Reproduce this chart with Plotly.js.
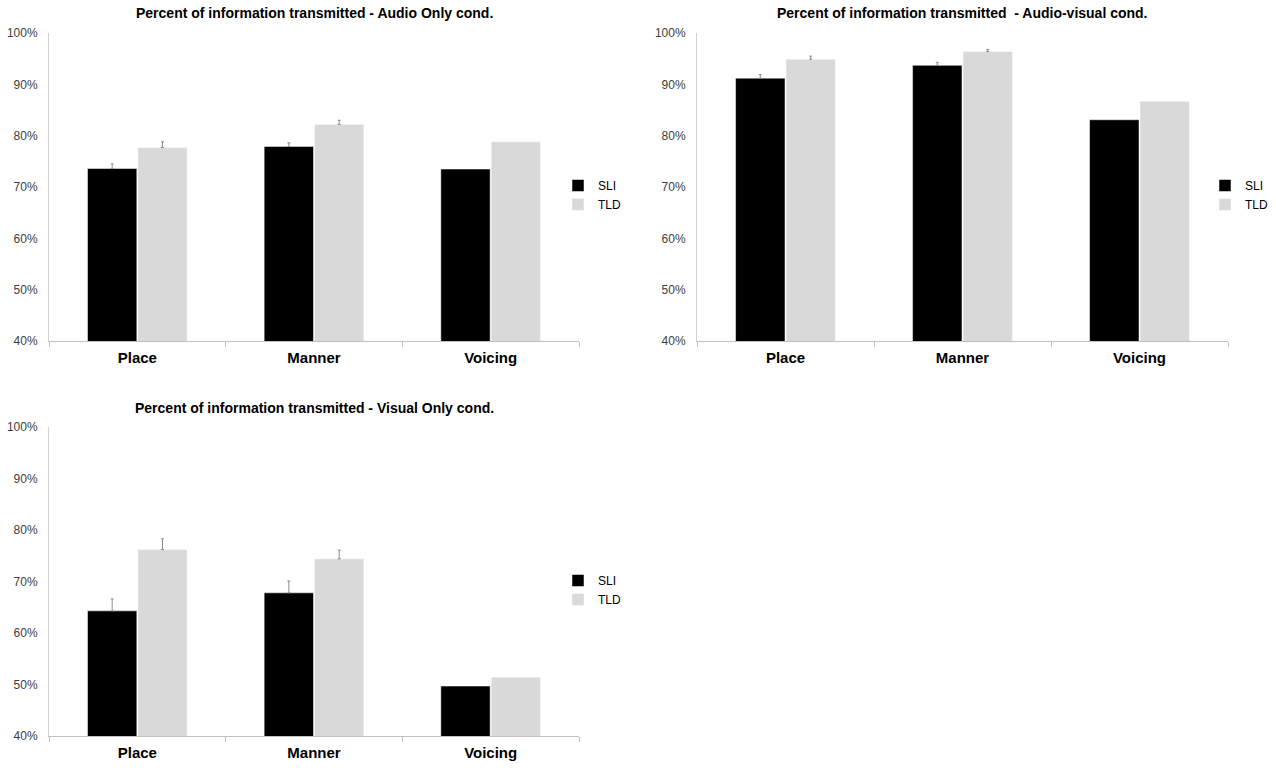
<!DOCTYPE html>
<html>
<head>
<meta charset="utf-8">
<script src="https://cdn.plot.ly/plotly-3.0.1.min.js"></script>
<style>
  html, body { margin: 0; padding: 0; background: #fff; }
  #chart { width: 1276px; height: 768px; }
</style>
</head>
<body>
<div id="chart"></div>
<script>
// categories and groups
var categories = ['Place', 'Manner', 'Voicing'];
var groups = ['SLI', 'TLD'];

// NaN = no error bar drawn for that bar

// Audio only
var audioSLI = [73.6, 77.9, 73.5];
var audioTLD = [77.7, 82.2, 78.8];
var audioSLIErr = [0.9, 0.7, NaN];
var audioTLDErr = [1.1, 0.8, NaN];

// Audio-visual
var avSLI = [91.2, 93.7, 83.1];
var avTLD = [94.9, 96.4, 86.7];
var avSLIErr = [0.7, 0.6, NaN];
var avTLDErr = [0.6, 0.4, NaN];

// Visual only
var visualSLI = [64.3, 67.8, 49.7];
var visualTLD = [76.2, 74.4, 51.4];
var visualSLIErr = [2.3, 2.3, NaN];
var visualTLDErr = [2.1, 1.7, NaN];

var titles = [
  'Percent of information transmitted - Audio Only cond.',
  'Percent of information transmitted&nbsp; - Audio-visual cond.',
  'Percent of information transmitted - Visual Only cond.'
];

var FONT = '"Liberation Sans", Arial, sans-serif';
var colors = { SLI: '#000000', TLD: '#d9d9d9' };

function bars(name, vals, errs, xa, ya, leg) {
  return {
    type: 'bar',
    name: name,
    x: categories,
    y: vals,
    xaxis: xa,
    yaxis: ya,
    legend: leg,
    marker: { color: colors[name], line: { color: '#ffffff', width: 0.5 } },
    error_y: {
      type: 'data', symmetric: false,
      array: errs,
      // one-sided bars: nothing below the top of the bar
      arrayminus: errs.map(function (e) { return isNaN(e) ? NaN : 0; }),
      color: '#8c8c8c', thickness: 1, width: 1.5
    },
    hoverinfo: 'x+y+name'
  };
}

var data = [
  bars('SLI', audioSLI, audioSLIErr, 'x', 'y', 'legend'),
  bars('TLD', audioTLD, audioTLDErr, 'x', 'y', 'legend'),
  bars('SLI', avSLI, avSLIErr, 'x2', 'y2', 'legend2'),
  bars('TLD', avTLD, avTLDErr, 'x2', 'y2', 'legend2'),
  bars('SLI', visualSLI, visualSLIErr, 'x3', 'y3', 'legend3'),
  bars('TLD', visualTLD, visualTLDErr, 'x3', 'y3', 'legend3')
];

var W = 1276, H = 768;
function px(x) { return x / W; }
function py(y) { return 1 - y / H; }

function xaxisCfg(l, r, anchor) {
  return {
    domain: [px(l), px(r)], anchor: anchor,
    showline: true, linecolor: '#c0c0c0', linewidth: 1,
    ticks: 'outside', tickson: 'boundaries', ticklen: 5, tickcolor: '#c0c0c0',
    ticklabelstandoff: 3,
    tickfont: { family: FONT, size: 15, color: '#000000', weight: 'bold' },
    showgrid: false, zeroline: false, fixedrange: true
  };
}
function yaxisCfg(t, b, anchor) {
  return {
    domain: [py(b), py(t)], anchor: anchor,
    range: [40, 100], dtick: 10, ticksuffix: '%',
    showline: true, linecolor: '#d0d0d0', linewidth: 1,
    ticks: 'outside', ticklen: 0, ticklabelstandoff: 8,
    tickfont: { family: FONT, size: 12, color: '#404040' },
    showgrid: false, zeroline: false, fixedrange: true
  };
}
function legendCfg(x, y) {
  return {
    x: px(x), y: py(y), xanchor: 'left', yanchor: 'middle',
    font: { family: FONT, size: 12, color: '#000000' },
    itemwidth: 30, tracegroupgap: 0, bgcolor: 'rgba(0,0,0,0)'
  };
}
function titleAnn(text, x, y) {
  return {
    text: text, xref: 'paper', yref: 'paper', x: px(x), y: py(y),
    xanchor: 'center', yanchor: 'middle', showarrow: false,
    font: { family: FONT, size: 14, color: '#000000', weight: 'bold' }
  };
}

var layout = {
  width: W, height: H,
  margin: { l: 0, r: 0, t: 0, b: 0 },
  paper_bgcolor: '#ffffff', plot_bgcolor: '#ffffff',
  font: { family: FONT },
  barmode: 'group', bargap: 0.43, bargroupgap: 0.02,
  xaxis: xaxisCfg(49, 579, 'y'),
  yaxis: yaxisCfg(33, 341, 'x'),
  xaxis2: xaxisCfg(697, 1228, 'y2'),
  yaxis2: yaxisCfg(33, 341, 'x2'),
  xaxis3: xaxisCfg(49, 579, 'y3'),
  yaxis3: yaxisCfg(427, 736, 'x3'),
  legend: legendCfg(558, 195),
  legend2: legendCfg(1205, 195),
  legend3: legendCfg(558, 590),
  annotations: [
    titleAnn(titles[0], 314, 13),
    titleAnn(titles[1], 962, 13),
    titleAnn(titles[2], 314, 408)
  ],
  showlegend: true
};

Plotly.newPlot('chart', data, layout, { displayModeBar: false, staticPlot: true });
</script>
</body>
</html>
